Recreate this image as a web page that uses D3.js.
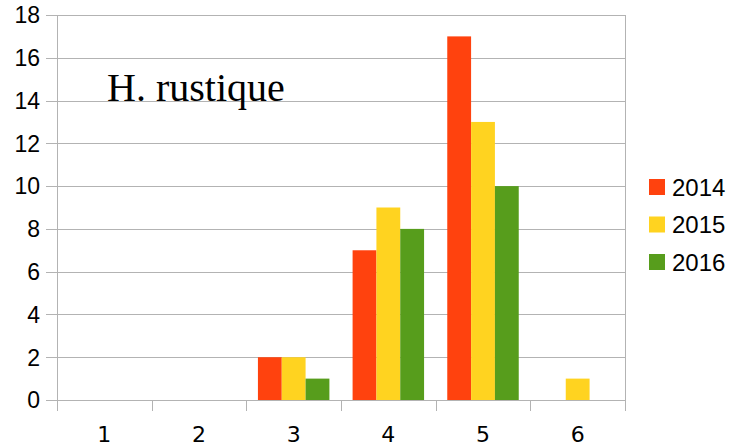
<!DOCTYPE html>
<html><head><meta charset="utf-8">
<script src="https://cdn.jsdelivr.net/npm/d3@7"></script>
<style>body{margin:0;background:#fff}</style>
</head><body>
<svg id="c" width="731" height="446"></svg>
<script>
const categories = ["1","2","3","4","5","6"];
const seriesNames = ["2014","2015","2016"];
const v2014 = [0,0,2,7,17,0];
const v2015 = [0,0,2,9,13,1];
const v2016 = [0,0,1,8,10,0];
const yTicks = [0,2,4,6,8,10,12,14,16,18];
const colors = ["#ff420e","#ffd320","#579d1c"];
const seriesValues = [v2014, v2015, v2016];

const svg = d3.select("#c");
const L = 57, R = 625, T = 15, B = 400;
const x0 = d3.scaleBand().domain(categories).range([L, R]).paddingInner(0.245).paddingOuter(0.1225);
const x1 = d3.scaleBand().domain(seriesNames).range([0, x0.bandwidth()]);
const y = d3.scaleLinear().domain([0, 18]).range([B, T]);
const xEdges = d3.scaleLinear().domain([0, categories.length]).range([L, R]);

const grid = "#b3b3b3";
svg.append("g").selectAll("line").data(yTicks).join("line")
  .attr("x1", L - 11).attr("x2", R).attr("y1", d => Math.round(y(d)) + 0.5).attr("y2", d => Math.round(y(d)) + 0.5)
  .attr("stroke", grid).attr("stroke-width", 1);
svg.append("line").attr("x1", L + 0.5).attr("x2", L + 0.5).attr("y1", T).attr("y2", B + 11).attr("stroke", grid);
svg.append("g").selectAll("line").data(d3.range(categories.length + 1)).join("line")
  .attr("x1", d => Math.round(xEdges(d)) + 0.5).attr("x2", d => Math.round(xEdges(d)) + 0.5)
  .attr("y1", d => d === categories.length ? T : B).attr("y2", B + 11)
  .attr("stroke", grid);

categories.forEach((c, i) => {
  seriesNames.forEach((s, j) => {
    const v = seriesValues[j][i];
    if (v > 0) {
      svg.append("rect")
        .attr("x", x0(c) + x1(s)).attr("width", x1.bandwidth())
        .attr("y", y(v)).attr("height", y(0) - y(v))
        .attr("fill", colors[j]);
    }
  });
});

svg.append("g").selectAll("text").data(yTicks).join("text")
  .attr("x", 40).attr("y", d => y(d)).attr("dy", "0.36em")
  .attr("text-anchor", "end").attr("font-family", "Liberation Sans, Arial, sans-serif")
  .attr("font-size", 23).attr("fill", "#000").text(d => d);
svg.append("g").selectAll("text").data(categories).join("text")
  .attr("x", d => x0(d) + x0.bandwidth() / 2).attr("y", 434).attr("dy", "0.36em")
  .attr("text-anchor", "middle").attr("font-family", "DejaVu Sans, sans-serif")
  .attr("font-size", 22).attr("fill", "#000").text(d => d);

svg.append("text").attr("x", 107).attr("y", 101)
  .attr("font-family", "Liberation Serif, Times New Roman, serif")
  .attr("font-size", 40).attr("fill", "#000").text("H. rustique");

const lg = svg.append("g");
seriesNames.forEach((s, j) => {
  const cy = 187 + j * 37.5;
  lg.append("rect").attr("x", 649).attr("y", cy - 8).attr("width", 16).attr("height", 16).attr("fill", colors[j]);
  lg.append("text").attr("x", 672).attr("y", cy).attr("dy", "0.36em")
    .attr("font-family", "Liberation Sans, Arial, sans-serif").attr("font-size", 24).attr("fill", "#000").text(s);
});
</script>
</body></html>
